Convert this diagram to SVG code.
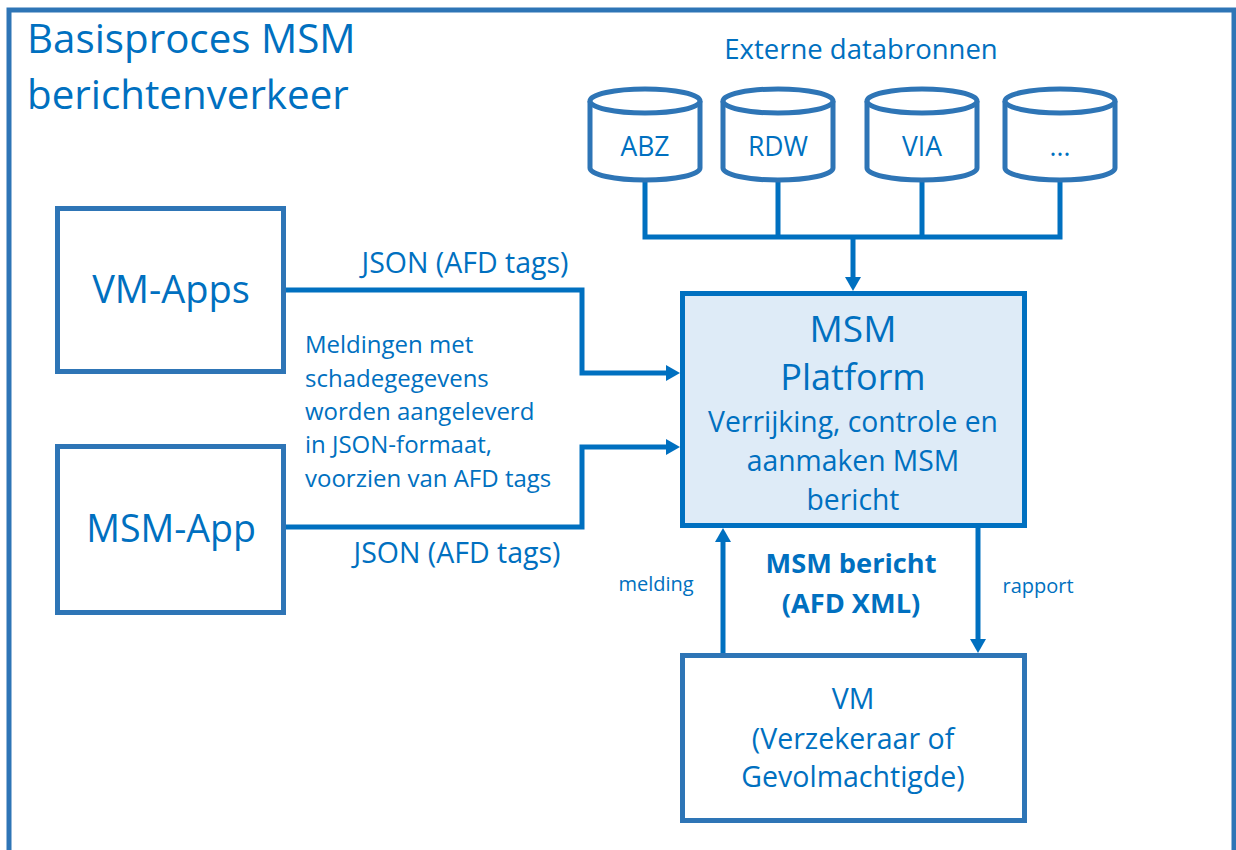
<svg xmlns="http://www.w3.org/2000/svg" width="1236" height="850" viewBox="0 0 1236 850">
<style>
text{font-family:"Open Sans","Noto Sans","DejaVu Sans",sans-serif;fill:#0070C0}
.box{fill:#fff;stroke:#2E75B6;stroke-width:5}
.plat{fill:#DEEBF7;stroke:#0070C0;stroke-width:5}
.cyl{fill:#fff;stroke:#2E75B6;stroke-width:5}
.con{fill:none;stroke:#0070C0;stroke-width:5}
.mid{text-anchor:middle}
</style>
<defs>
<marker id="arr" viewBox="0 0 14 16" refX="6" refY="8" markerWidth="14" markerHeight="16" markerUnits="userSpaceOnUse" orient="auto">
<path d="M0,0 L14,8 L0,16 z" fill="#0070C0"/>
</marker>
</defs>
<rect width="1236" height="850" fill="#fff"/>
<g id="frame">
<path d="M9,860 V10 H1234 V860" fill="none" stroke="#2E75B6" stroke-width="5"/>
<text x="27" y="53" font-size="40.3">Basisproces MSM</text>
<text x="27" y="109" font-size="40.3">berichtenverkeer</text>
</g>
<g id="connectors">
<path class="con" d="M645,181 V237 M778,181 V237 M922,181 V237 M1060,181 V237 M642.5,237 H1062.5"/>
<path class="con" d="M853,237 V283" marker-end="url(#arr)"/>
<path class="con" d="M286,290 H582 V373 H672" marker-end="url(#arr)"/>
<path class="con" d="M286,527 H582 V447 H672" marker-end="url(#arr)"/>
<path class="con" d="M723,653 V536" marker-end="url(#arr)"/>
<path class="con" d="M978,528 V645" marker-end="url(#arr)"/>
</g>
<g id="externe-databronnen">
<text x="861" y="59" font-size="27.5" class="mid">Externe databronnen</text>
</g>
<g id="abz" transform="translate(645,0)">
<path class="cyl" d="M-55,101 V168 A55,12 0 0 0 55,168 V101"/>
<ellipse class="cyl" cx="0" cy="101" rx="55" ry="12"/>
<text x="0" y="156" font-size="26.5" class="mid">ABZ</text>
</g>
<g id="rdw" transform="translate(778,0)">
<path class="cyl" d="M-55,101 V168 A55,12 0 0 0 55,168 V101"/>
<ellipse class="cyl" cx="0" cy="101" rx="55" ry="12"/>
<text x="0" y="156" font-size="26.5" class="mid">RDW</text>
</g>
<g id="via" transform="translate(922,0)">
<path class="cyl" d="M-55,101 V168 A55,12 0 0 0 55,168 V101"/>
<ellipse class="cyl" cx="0" cy="101" rx="55" ry="12"/>
<text x="0" y="156" font-size="26.5" class="mid">VIA</text>
</g>
<g id="more" transform="translate(1060,0)">
<path class="cyl" d="M-55,101 V168 A55,12 0 0 0 55,168 V101"/>
<ellipse class="cyl" cx="0" cy="101" rx="55" ry="12"/>
<text x="0" y="156" font-size="26.5" class="mid">...</text>
</g>
<g id="vm-apps">
<rect class="box" x="57.5" y="208.5" width="226" height="163"/>
<text x="171" y="303" font-size="38" class="mid">VM-Apps</text>
</g>
<g id="msm-app">
<rect class="box" x="57.5" y="446.5" width="226" height="166"/>
<text x="171" y="542" font-size="37.5" class="mid">MSM-App</text>
</g>
<g id="labels">
<text x="465" y="273" font-size="28.5" class="mid">JSON (AFD tags)</text>
<text x="457" y="563" font-size="28.5" class="mid">JSON (AFD tags)</text>
<text x="305" y="353" font-size="24">Meldingen met</text>
<text x="305" y="387" font-size="24">schadegegevens</text>
<text x="305" y="420" font-size="24">worden aangeleverd</text>
<text x="305" y="453" font-size="24">in JSON-formaat,</text>
<text x="305" y="487" font-size="24">voorzien van AFD tags</text>
<text x="656" y="591" font-size="20" class="mid">melding</text>
<text x="1038" y="593" font-size="20" class="mid">rapport</text>
<text x="851" y="573" font-size="27.2" font-weight="bold" class="mid">MSM bericht</text>
<text x="851" y="613" font-size="27.2" font-weight="bold" class="mid">(AFD XML)</text>
</g>
<g id="msm-platform">
<rect class="plat" x="682.5" y="293.5" width="342" height="232"/>
<text x="853" y="342" font-size="37" class="mid">MSM</text>
<text x="853" y="390" font-size="36" class="mid">Platform</text>
<text x="853" y="432" font-size="28.3" class="mid">Verrijking, controle en</text>
<text x="853" y="471" font-size="28.3" class="mid">aanmaken MSM</text>
<text x="853" y="510" font-size="28.3" class="mid">bericht</text>
</g>
<g id="vm">
<rect class="box" x="682.5" y="655.5" width="342" height="165"/>
<text x="853" y="709" font-size="28.5" class="mid">VM</text>
<text x="853" y="749" font-size="28.5" class="mid">(Verzekeraar of</text>
<text x="853" y="787" font-size="28.5" class="mid">Gevolmachtigde)</text>
</g>
</svg>
